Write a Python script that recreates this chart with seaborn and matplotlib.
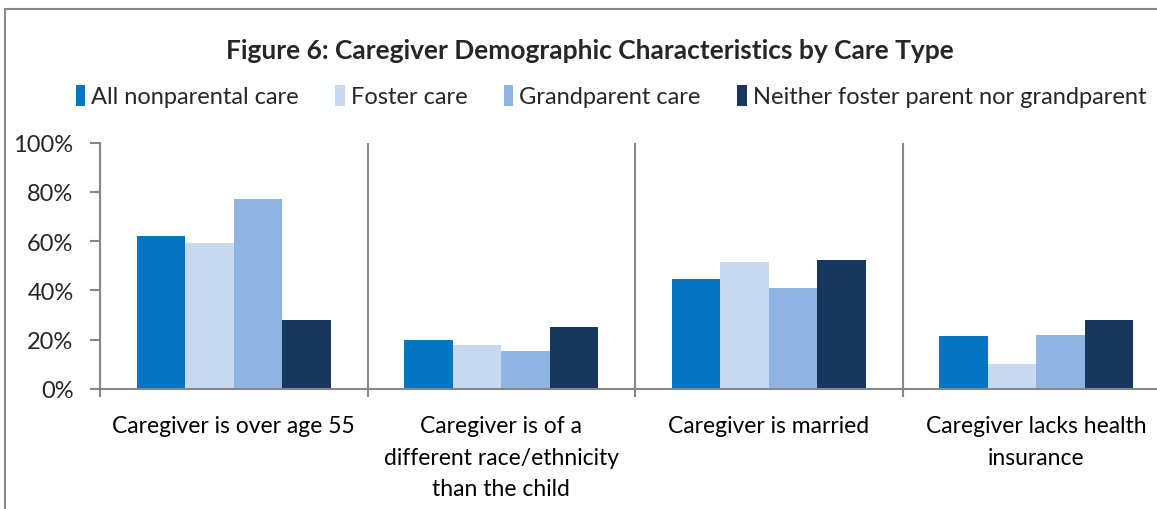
import pandas as pd
import matplotlib
matplotlib.use("Agg")
import matplotlib.pyplot as plt
from matplotlib.patches import Patch, Rectangle
from matplotlib.ticker import FixedLocator, PercentFormatter
import seaborn as sns

# data
categories = [
    "Caregiver is over age 55",
    "Caregiver is of a\ndifferent race/ethnicity\nthan the child",
    "Caregiver is married",
    "Caregiver lacks health\ninsurance",
]
care_types = [
    "All nonparental care",
    "Foster care",
    "Grandparent care",
    "Neither foster parent nor grandparent",
]
all_nonparental = [0.622, 0.200, 0.445, 0.214]
foster = [0.594, 0.177, 0.515, 0.100]
grandparent = [0.770, 0.155, 0.408, 0.219]
neither = [0.279, 0.250, 0.525, 0.281]
colors = ["#0674C4", "#C6D9F0", "#8EB4E3", "#17375E"]

rows = []
for name, vals in zip(care_types, [all_nonparental, foster, grandparent, neither]):
    for cat, v in zip(categories, vals):
        rows.append({"category": cat, "care_type": name, "share": v})
df = pd.DataFrame(rows)

sns.set_theme(style="white")
plt.rcParams["font.family"] = ["Lato", "DejaVu Sans"]

fig = plt.figure(figsize=(11.57, 5.10), dpi=100)
ax = fig.add_axes([100 / 1157, 120 / 510, 1070 / 1157, 246.5 / 510])

sns.barplot(
    data=df, x="category", y="share", hue="care_type",
    order=categories, hue_order=care_types, palette=colors,
    width=0.725, gap=0, saturation=1, ax=ax, legend=False,
    edgecolor="none",
)

grey = "#878787"
ax.set_xlim(-0.5, 3.5)
ax.set_ylim(0, 1)
ax.set_yticks([0, 0.2, 0.4, 0.6, 0.8, 1.0])
ax.yaxis.set_major_formatter(PercentFormatter(1.0, decimals=0))
ax.set_xlabel("")
ax.set_ylabel("")
ax.xaxis.set_minor_locator(FixedLocator([-0.5, 0.5, 1.5, 2.5, 3.5]))
ax.grid(which="minor", axis="x", color=grey, linewidth=1.5)
ax.grid(which="major", visible=False)
ax.tick_params(axis="x", which="major", length=0, pad=19, labelsize=16.5, colors="black")
ax.tick_params(axis="x", which="minor", length=6, width=1.5, color=grey, direction="out", bottom=True)
ax.tick_params(axis="y", length=7, width=1.5, color=grey, direction="out", left=True, labelsize=17, pad=12)
for lbl in ax.get_xticklabels():
    lbl.set_linespacing(1.6)
for side in ["top", "right"]:
    ax.spines[side].set_visible(False)
for side in ["left", "bottom"]:
    ax.spines[side].set_color(grey)
    ax.spines[side].set_linewidth(1.5)

fig.text(0.51, 1 - 51 / 510, "Figure 6: Caregiver Demographic Characteristics by Care Type",
         ha="center", va="center", fontsize=19, fontweight="bold")

handles = [Patch(facecolor=c, edgecolor="none") for c in colors]
fig.legend(handles, care_types, loc="center", bbox_to_anchor=(0.528, 1 - 97 / 510),
           ncol=4, frameon=False, fontsize=17, handlelength=0.4, handleheight=1.0,
           handletextpad=0.25, columnspacing=1.55)

# outer chart frame, cut off on the right and bottom like the reference
fig.patches.append(Rectangle((5 / 1157, -0.1), 1.2, 1 - 10 / 510 + 0.1,
                             transform=fig.transFigure, fill=False,
                             edgecolor=grey, linewidth=1.5))

fig.savefig("out.png", dpi=100)
